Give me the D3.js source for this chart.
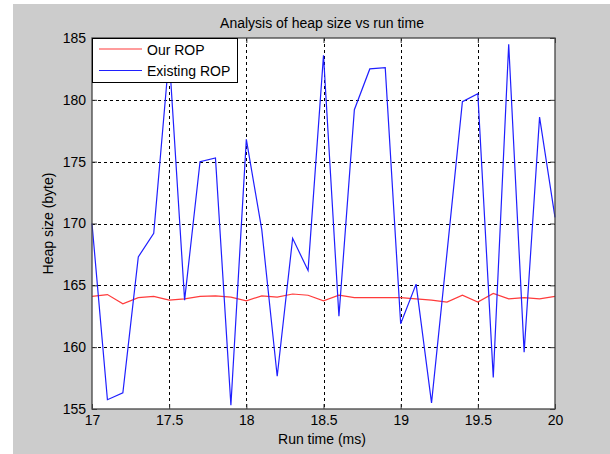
<!DOCTYPE html>
<html><head><meta charset="utf-8">
<script src="https://cdn.jsdelivr.net/npm/d3@7"></script>
<style>body{margin:0;background:#fff;} svg{display:block;}</style>
</head><body>
<script>
const runTime = [17.0,17.1,17.2,17.3,17.4,17.5,17.6,17.7,17.8,17.9,18.0,18.1,18.2,18.3,18.4,18.5,18.6,18.7,18.8,18.9,19.0,19.1,19.2,19.3,19.4,19.5,19.6,19.7,19.8,19.9,20.0];
const ourROP = [164.1,164.25,163.5,164.0,164.1,163.8,163.9,164.1,164.15,164.05,163.75,164.15,164.05,164.3,164.2,163.75,164.2,164.0,164.0,164.0,164.0,163.9,163.8,163.65,164.2,163.65,164.35,163.9,164.0,163.9,164.1];
const existingROP = [170.0,155.75,156.3,167.3,169.2,183.6,163.8,175.0,175.3,155.3,176.8,169.5,157.65,168.8,166.2,183.6,162.5,179.2,182.5,182.6,161.9,165.1,155.5,167.6,179.85,180.5,157.55,184.5,159.6,178.6,170.5];
const xTicks = [17,17.5,18,18.5,19,19.5,20];
const yTicks = [155,160,165,170,175,180,185];
const seriesNames = ["Our ROP","Existing ROP"];
const seriesColors = ["#ff3b3b","#1f1fff"];

const W=610,H=454;
const L=92,T=38,R=555,B=409;
const font="Arial, 'Liberation Sans', sans-serif";
const svg=d3.select("body").append("svg").attr("width",W).attr("height",H);
svg.append("rect").attr("x",13).attr("y",4).attr("width",W-13).attr("height",H-4).attr("fill","#cccccc");
const x=d3.scaleLinear().domain([17,20]).range([L,R]);
const y=d3.scaleLinear().domain([155,185]).range([B,T]);
svg.append("rect").attr("x",L).attr("y",T).attr("width",R-L).attr("height",B-T).attr("fill","#fff");

// grid
const g=svg.append("g");
g.selectAll(".vg").data(xTicks.slice(1,-1)).enter().append("line")
 .attr("x1",d=>Math.round(x(d))+0.5).attr("x2",d=>Math.round(x(d))+0.5).attr("y1",T).attr("y2",B)
 .attr("stroke","#000").attr("stroke-dasharray","3,3");
g.selectAll(".hg").data(yTicks.slice(1,-1)).enter().append("line")
 .attr("y1",d=>Math.round(y(d))+0.5).attr("y2",d=>Math.round(y(d))+0.5).attr("x1",L).attr("x2",R)
 .attr("stroke","#000").attr("stroke-dasharray","3,3");

// lines
const line=d3.line().x((d,i)=>x(runTime[i])).y(d=>y(d));
svg.append("path").datum(ourROP).attr("d",line).attr("fill","none").attr("stroke",seriesColors[0]).attr("stroke-width",1.2);
svg.append("path").datum(existingROP).attr("d",line).attr("fill","none").attr("stroke",seriesColors[1]).attr("stroke-width",1.2);

// axes with inner ticks
const axB=d3.axisBottom(x).tickValues(xTicks).tickFormat(d3.format("")).tickSizeInner(-5).tickSizeOuter(0).tickPadding(6);
const axT=d3.axisTop(x).tickValues(xTicks).tickFormat("").tickSizeInner(-5).tickSizeOuter(0);
const axLf=d3.axisLeft(y).tickValues(yTicks).tickFormat(d3.format("")).tickSizeInner(-5).tickSizeOuter(0).tickPadding(6);
const axRt=d3.axisRight(y).tickValues(yTicks).tickFormat("").tickSizeInner(-5).tickSizeOuter(0);
function style(sel){sel.selectAll("path").remove();sel.selectAll("line").attr("stroke","#333");sel.selectAll("text").attr("fill","#000").style("font-family",font).style("font-size","14px");}
svg.append("g").attr("transform",`translate(0,${B})`).call(axB).call(style);
svg.append("g").attr("transform",`translate(0,${T})`).call(axT).call(style);
svg.append("g").attr("transform",`translate(${L},0)`).call(axLf).call(style);
svg.append("g").attr("transform",`translate(${R},0)`).call(axRt).call(style);
svg.append("rect").attr("x",L).attr("y",T).attr("width",R-L).attr("height",B-T).attr("fill","none").attr("stroke","#444").attr("stroke-width",1.3);

// labels
svg.append("text").attr("x",322).attr("y",28).attr("text-anchor","middle").style("font-family",font).style("font-size","14px").text("Analysis of heap size vs run time");
svg.append("text").attr("x",322).attr("y",444).attr("text-anchor","middle").style("font-family",font).style("font-size","14px").text("Run time (ms)");
svg.append("text").attr("transform",`translate(53,${(T+B)/2}) rotate(-90)`).attr("text-anchor","middle").style("font-family",font).style("font-size","14px").text("Heap size (byte)");

// legend
const lg=svg.append("g");
lg.append("rect").attr("x",92.5).attr("y",38.5).attr("width",145).attr("height",44).attr("fill","#fff").attr("stroke","#000");
seriesNames.forEach((n,i)=>{
  const yy=49+i*21.5;
  lg.append("line").attr("x1",99).attr("x2",142).attr("y1",yy).attr("y2",yy).attr("stroke",seriesColors[i]).attr("stroke-width",1.2);
  lg.append("text").attr("x",147).attr("y",yy+5.5).style("font-family",font).style("font-size","14px").text(n);
});
</script>
</body></html>
